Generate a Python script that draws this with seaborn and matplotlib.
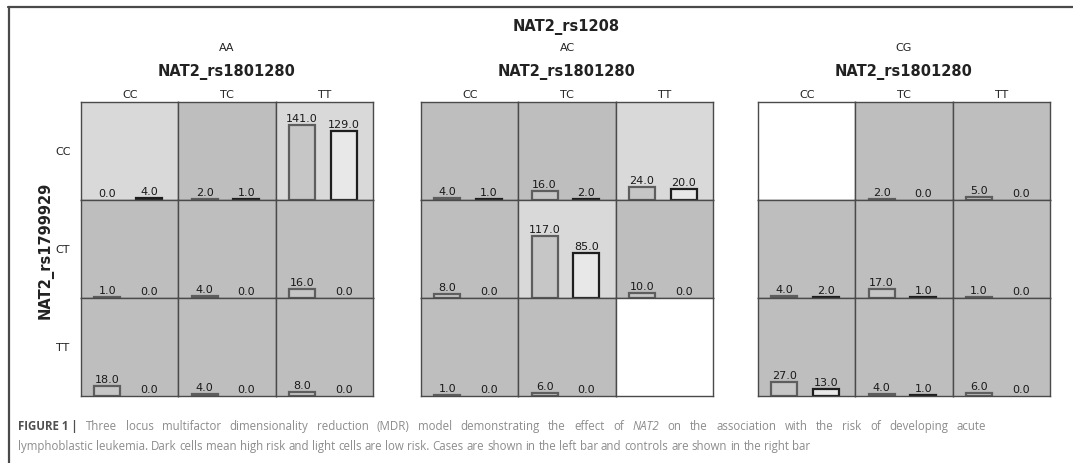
import numpy as np
import pandas as pd
import matplotlib
matplotlib.use("Agg")
import matplotlib.pyplot as plt
import seaborn as sns
from matplotlib.lines import Line2D

sns.set_theme(style="white")
plt.rcParams['font.family'] = ['DejaVu Sans']

W, H, DPI = 1073, 464, 100

# Loci and genotype levels
outer_locus = "NAT2_rs1208"
outer_levels = ["AA", "AC", "CG"]
col_locus = "NAT2_rs1801280"
col_levels = ["CC", "TC", "TT"]
row_locus = "NAT2_rs1799929"
row_levels = ["CC", "CT", "TT"]

# Counts per cell, indexed [row][col]; None marks an empty cell
cases_aa = [[0, 2, 141], [1, 4, 16], [18, 4, 8]]
controls_aa = [[4, 1, 129], [0, 0, 0], [0, 0, 0]]
risk_aa = [["L", "H", "L"], ["H", "H", "H"], ["H", "H", "H"]]

cases_ac = [[4, 16, 24], [8, 117, 10], [1, 6, None]]
controls_ac = [[1, 2, 20], [0, 85, 0], [0, 0, None]]
risk_ac = [["H", "H", "L"], ["H", "L", "H"], ["H", "H", "E"]]

cases_cg = [[None, 2, 5], [4, 17, 1], [27, 4, 6]]
controls_cg = [[None, 0, 0], [2, 1, 0], [13, 1, 0]]
risk_cg = [["E", "H", "H"], ["H", "H", "H"], ["H", "H", "H"]]

panels = [
    (cases_aa, controls_aa, risk_aa),
    (cases_ac, controls_ac, risk_ac),
    (cases_cg, controls_cg, risk_cg),
]

cell_colors = {"H": "#bebebe", "L": "#d9d9d9", "E": "#ffffff"}
case_fill, case_edge = "#c6c6c6", "#5e5e5e"
ctrl_fill, ctrl_edge = "#e8e8e8", "#1e1e1e"
YMAX = 184

fig = plt.figure(figsize=(W / DPI, H / DPI), dpi=DPI)
fig.patch.set_facecolor("white")


def px_axes(x0, y0, w, h):
    return fig.add_axes([x0 / W, 1 - (y0 + h) / H, w / W, h / H])


def ftext(x, y, s, **kw):
    kw.setdefault("ha", "center")
    kw.setdefault("va", "center")
    return fig.text(x / W, 1 - y / H, s, **kw)


panel_left = [81, 421, 758]
panel_w = 292
grid_top = 103
grid_h = 294
cw = panel_w / 3
ch = grid_h / 3

for p, (cases, controls, risk) in enumerate(panels):
    x_left = panel_left[p]
    for r in range(3):
        for c in range(3):
            ax = px_axes(x_left + c * cw, grid_top + r * ch, cw, ch)
            ax.set_facecolor(cell_colors[risk[r][c]])
            if cases[r][c] is not None:
                df = pd.DataFrame({
                    "group": ["Cases", "Controls"],
                    "count": [cases[r][c], controls[r][c]],
                })
                sns.barplot(data=df, x="group", y="count", hue="group",
                            palette=[case_fill, ctrl_fill], saturation=1,
                            width=0.62, legend=False, ax=ax)
                for cont, edge in zip(ax.containers, [case_edge, ctrl_edge]):
                    for bar in cont:
                        bar.set_edgecolor(edge)
                        bar.set_linewidth(1.6)
                        if bar.get_height() == 0:
                            bar.set_visible(False)
                    ax.bar_label(cont, fmt="%.1f", padding=1.5, fontsize=8,
                                 color="#1a1a1a")
            ax.set_xlim(-0.628, 1.698)
            ax.set_ylim(0, YMAX)
            ax.set_xticks([])
            ax.set_yticks([])
            ax.set_xlabel("")
            ax.set_ylabel("")
            for sp in ax.spines.values():
                sp.set_color("#4a4a4a")
                sp.set_linewidth(1.0)
                sp.set_visible(True)

    cx = x_left + panel_w / 2
    ftext(cx, 48, outer_levels[p], fontsize=8, color="#222")
    ftext(cx, 72, col_locus, fontsize=10.5, fontweight="bold", color="#222")
    for c, lab in enumerate(col_levels):
        ftext(x_left + (c + 0.5) * cw, 95, lab, fontsize=8, color="#222")

ftext(566, 27, outer_locus, fontsize=10.5, fontweight="bold", color="#222")
for r, lab in enumerate(row_levels):
    ftext(63, grid_top + (r + 0.5) * ch, lab, fontsize=8, color="#222")
ftext(46, grid_top + grid_h / 2, row_locus, fontsize=10.5, fontweight="bold",
      rotation=90, color="#222")

# Frame around the figure block
fig.add_artist(Line2D([8 / W, 1], [1 - 7.5 / H] * 2, transform=fig.transFigure,
                      color="#4a4a4a", lw=1.6))
fig.add_artist(Line2D([9 / W] * 2, [1 - 7.5 / H, 0], transform=fig.transFigure,
                      color="#4a4a4a", lw=1.6))

# Caption: first line justified to the column width, second line ragged
fig.canvas.draw()
renderer = fig.canvas.get_renderer()
cap_font = dict(family=["Open Sans", "DejaVu Sans"], fontsize=8.3)
grey = "#8c8c8c"
dark = "#505050"


def caption_words(y, words, x0=18, x1=None):
    texts = []
    for s, kw in words:
        opts = dict(cap_font)
        opts.update(kw)
        t = fig.text(x0 / W, 1 - y / H, s, ha="left", va="center", **opts)
        texts.append(t)
    widths = [t.get_window_extent(renderer=renderer).width for t in texts]
    space = fig.text(0, 0, "a a", **cap_font)
    single = fig.text(0, 0, "aa", **cap_font)
    gap = (space.get_window_extent(renderer=renderer).width
           - single.get_window_extent(renderer=renderer).width)
    space.remove()
    single.remove()
    if x1 is not None and len(texts) > 1:
        gap = (x1 - x0 - sum(widths)) / (len(texts) - 1)
    x = x0
    for t, w in zip(texts, widths):
        t.set_x(x / W)
        x += w + gap


plain = dict(color=grey)
line1 = [("FIGURE 1 |", dict(fontweight="bold", color=dark))]
line1 += [(w, plain) for w in
          "Three locus multifactor dimensionality reduction (MDR) model demonstrating the effect of".split()]
line1 += [("NAT2", dict(color=grey, style="italic"))]
line1 += [(w, plain) for w in
          "on the association with the risk of developing acute".split()]
line2 = [(w, plain) for w in
         ("lymphoblastic leukemia. Dark cells mean high risk and light cells are low risk. "
          "Cases are shown in the left bar and controls are shown in the right bar").split()]

caption_words(427, line1, x1=986)
caption_words(447, line2)

fig.savefig("out.png", dpi=DPI, facecolor="white")
